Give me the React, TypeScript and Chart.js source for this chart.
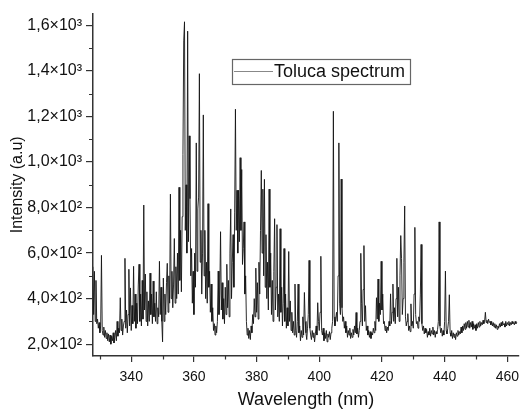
import React, { useEffect, useRef } from 'react';
import { Chart, registerables } from 'chart.js';

Chart.register(...registerables);

// ---- data (intensity in a.u., sampled every 0.25 nm) ----
const STEP_NM = 0.25;

const segAStart = 327.75; // 327.75 – 342.5
const segA = [
  540, 330, 520, 300, 480, 290, 310, 270, 295, 250, 280, 590, 260, 240, 275, 230, 260, 225, 250, 215,
  245, 210, 240, 200, 235, 215, 250, 205, 230, 260, 215, 300, 235, 270, 250, 404, 260, 310, 240, 280,
  300, 577, 270, 350, 250, 330, 529, 280, 447, 260, 370, 290, 542, 300, 420, 270, 380, 290, 460, 551,
];

const segBStart = 342.75; // 342.75 – 357.5
const segB = [
  300, 420, 280, 480, 310, 811, 350, 508, 300, 430, 280, 390, 300, 512, 330, 420, 290, 477, 320, 380,
  300, 430, 290, 360, 320, 564, 330, 450, 300, 210, 490, 300, 420, 330, 470, 555, 340, 500, 380, 859,
  400, 520, 360, 460, 664, 380, 540, 400, 600, 420, 889, 480, 700, 430, 760, 1034, 1532, 1616, 700, 900,
];

const segCStart = 357.75; // 357.75 – 372.5
const segC = [
  600, 1575, 650, 1115, 839, 500, 620, 380, 520, 330, 600, 450, 1084, 520, 794, 846, 1388, 560, 700, 420,
  600, 1207, 500, 700, 400, 560, 380, 817, 450, 520, 340, 464, 300, 360, 260, 290, 240, 280, 250, 300,
  521, 330, 420, 694, 350, 470, 310, 400, 290, 450, 330, 551, 360, 480, 320, 600, 794, 400, 560, 681,
];

const segDStart = 372.75; // 372.75 – 387.5
const segD = [
  450, 780, 1232, 700, 876, 600, 876, 650, 1019, 700, 967, 550, 620, 737, 420, 500, 300, 240, 270, 225,
  260, 220, 280, 250, 330, 290, 400, 320, 534, 340, 470, 310, 560, 420, 700, 963, 600, 881, 500, 924,
  450, 681, 400, 560, 350, 881, 450, 600, 330, 480, 300, 520, 751, 350, 450, 725, 320, 420, 300, 707,
];

const segEStart = 387.75; // 387.75 – 402.5
const segE = [
  340, 450, 280, 380, 620, 300, 420, 270, 360, 280, 607, 300, 390, 260, 340, 250, 300, 240, 464, 260,
  230, 300, 464, 250, 280, 215, 260, 230, 320, 240, 427, 300, 250, 220, 270, 330, 568, 270, 240, 220,
  260, 230, 250, 210, 245, 280, 240, 382, 300, 260, 340, 586, 260, 240, 270, 215, 250, 225, 260, 210,
];

const segFStart = 402.75; // 402.75 – 417.5
const segF = [
  245, 230, 255, 220, 250, 270, 300, 1223, 320, 280, 310, 340, 300, 500, 1084, 380, 330, 925, 360, 300,
  320, 270, 300, 250, 280, 230, 260, 240, 270, 225, 250, 230, 265, 240, 280, 250, 339, 245, 270, 230,
  260, 300, 599, 380, 280, 440, 633, 300, 369, 260, 280, 240, 260, 230, 255, 225, 250, 240, 270, 250,
];

const segGStart = 417.75; // 417.75 – 432.5
const segG = [
  300, 260, 404, 310, 486, 300, 380, 330, 564, 350, 420, 290, 300, 260, 280, 250, 275, 260, 300, 280,
  421, 290, 340, 464, 300, 360, 290, 400, 577, 320, 450, 300, 500, 677, 577, 330, 400, 560, 807, 320,
  280, 300, 334, 260, 280, 255, 377, 280, 300, 270, 420, 713, 330, 290, 300, 270, 320, 300, 420, 638,
];

const segHStart = 432.75; // 432.75 – 447.5
const segH = [
  290, 260, 280, 245, 270, 250, 265, 230, 255, 240, 270, 235, 260, 245, 275, 240, 260, 230, 255, 245,
  265, 300, 737, 280, 250, 270, 235, 260, 240, 300, 521, 260, 245, 270, 300, 417, 250, 235, 260, 225,
  250, 230, 245, 220, 250, 235, 260, 240, 255, 245, 275, 250, 280, 260, 290, 265, 295, 270, 300, 275,
];

const segIStart = 447.75; // 447.75 – 463.0
const segI = [
  305, 270, 295, 275, 300, 265, 290, 270, 285, 260, 290, 270, 295, 275, 300, 280, 295, 285, 305, 290,
  300, 340, 295, 305, 290, 310, 295, 300, 285, 300, 280, 295, 275, 290, 270, 285, 265, 280, 270, 290,
  275, 295, 280, 300, 285, 290, 275, 300, 280, 295, 285, 300, 280, 295, 285, 300, 290, 295, 285, 300, 290, 295,
];

const segments: [number, number[]][] = [
  [segAStart, segA], [segBStart, segB], [segCStart, segC], [segDStart, segD], [segEStart, segE],
  [segFStart, segF], [segGStart, segG], [segHStart, segH], [segIStart, segI],
];

const SERIES_LABEL = 'Toluca spectrum';

// axes
const X_MIN = 327.8;
const X_MAX = 463.7;
const Y_MIN = 148;
const Y_MAX = 1652;
const xMajorTicks = [340, 360, 380, 400, 420, 440, 460];
const xMinorTicks = [330, 350, 370, 390, 410, 430, 450];
const yMajorTicks = [200, 400, 600, 800, 1000, 1200, 1400, 1600];
const yTickLabels = ['2,0×10²', '4,0×10²', '6,0×10²', '8,0×10²', '1,0×10³', '1,2×10³', '1,4×10³', '1,6×10³'];
const yMinorTicks = [300, 500, 700, 900, 1100, 1300, 1500];

const FONT = "'Liberation Sans', Arial, sans-serif";
const AXIS_COLOR = '#333';
const TEXT_COLOR = '#111';

const minorTicksPlugin = {
  id: 'minorTicks',
  afterDraw(chart: any) {
    const { ctx, scales, chartArea } = chart;
    const x = scales.x;
    const y = scales.y;
    ctx.save();
    ctx.strokeStyle = AXIS_COLOR;
    ctx.lineWidth = 1.2;
    ctx.beginPath();
    xMinorTicks.forEach((v) => {
      const px = Math.round(x.getPixelForValue(v)) + 0.5;
      ctx.moveTo(px, chartArea.bottom);
      ctx.lineTo(px, chartArea.bottom + 3.5);
    });
    yMinorTicks.forEach((v) => {
      const py = Math.round(y.getPixelForValue(v)) + 0.5;
      ctx.moveTo(chartArea.left, py);
      ctx.lineTo(chartArea.left - 4, py);
    });
    ctx.stroke();
    ctx.restore();
  },
};

const legendPlugin = {
  id: 'boxLegend',
  afterDraw(chart: any) {
    const { ctx } = chart;
    const label = chart.data.datasets[0].label;
    ctx.save();
    ctx.fillStyle = '#fff';
    ctx.fillRect(232, 59, 178, 25);
    ctx.strokeStyle = '#666';
    ctx.lineWidth = 1.2;
    ctx.strokeRect(232.5, 59.5, 178, 25);
    ctx.strokeStyle = '#888';
    ctx.lineWidth = 1;
    ctx.beginPath();
    ctx.moveTo(234, 71.5);
    ctx.lineTo(273, 71.5);
    ctx.stroke();
    ctx.fillStyle = TEXT_COLOR;
    ctx.font = `18px ${FONT}`;
    ctx.textBaseline = 'middle';
    ctx.textAlign = 'left';
    ctx.fillText(label, 274, 72);
    ctx.restore();
  },
};

export default function App() {
  const canvasRef = useRef<HTMLCanvasElement | null>(null);

  useEffect(() => {
    if (!canvasRef.current) return;
    const points: { x: number; y: number }[] = [];
    segments.forEach(([start, vals]) => {
      vals.forEach((v, i) => points.push({ x: start + i * STEP_NM, y: v }));
    });

    const chart = new Chart(canvasRef.current, {
      type: 'line',
      data: {
        datasets: [
          {
            label: SERIES_LABEL,
            data: points,
            borderColor: '#151515',
            borderWidth: 0.9,
            pointRadius: 0,
            tension: 0,
            fill: false,
          },
        ],
      },
      plugins: [minorTicksPlugin, legendPlugin],
      options: {
        responsive: false,
        animation: false,
        events: [],
        layout: { padding: { left: 0, top: 9, right: 0, bottom: 0 } },
        plugins: {
          legend: { display: false },
          tooltip: { enabled: false },
        },
        scales: {
          x: {
            type: 'linear',
            min: X_MIN,
            max: X_MAX,
            afterBuildTicks: (scale: any) => {
              scale.ticks = xMajorTicks.map((v) => ({ value: v }));
            },
            afterFit: (scale: any) => {
              scale.height = 57;
            },
            ticks: {
              font: { family: FONT, size: 14 },
              color: TEXT_COLOR,
              padding: 7,
              maxRotation: 0,
              autoSkip: false,
              callback: (v: any) => String(v),
            },
            grid: {
              display: true,
              drawOnChartArea: false,
              drawTicks: true,
              tickLength: 6,
              color: AXIS_COLOR,
              lineWidth: 1.2,
            },
            border: { display: true, color: AXIS_COLOR, width: 1.5 },
            title: {
              display: true,
              text: 'Wavelength (nm)',
              font: { family: FONT, size: 18 },
              color: TEXT_COLOR,
              padding: { top: 0, bottom: 2 },
            },
          },
          y: {
            type: 'linear',
            min: Y_MIN,
            max: Y_MAX,
            afterBuildTicks: (scale: any) => {
              scale.ticks = yMajorTicks.map((v) => ({ value: v }));
            },
            afterFit: (scale: any) => {
              scale.width = 93;
            },
            ticks: {
              font: { family: FONT, size: 16 },
              color: TEXT_COLOR,
              padding: 4,
              autoSkip: false,
              callback: (v: any) => {
                const idx = yMajorTicks.indexOf(Number(v));
                return idx >= 0 ? yTickLabels[idx] : '';
              },
            },
            grid: {
              display: true,
              drawOnChartArea: false,
              drawTicks: true,
              tickLength: 7,
              color: AXIS_COLOR,
              lineWidth: 1.2,
            },
            border: { display: true, color: AXIS_COLOR, width: 1.5 },
            title: {
              display: true,
              text: 'Intensity (a.u)',
              font: { family: FONT, size: 16 },
              color: TEXT_COLOR,
              padding: { top: 8, bottom: 0 },
            },
          },
        },
      },
    });
    return () => chart.destroy();
  }, []);

  return (
    <div style={{ position: 'fixed', left: 0, top: 0, width: 526, height: 413, background: '#fff' }}>
      <canvas ref={canvasRef} width={526} height={413} style={{ display: 'block' }} />
    </div>
  );
}
